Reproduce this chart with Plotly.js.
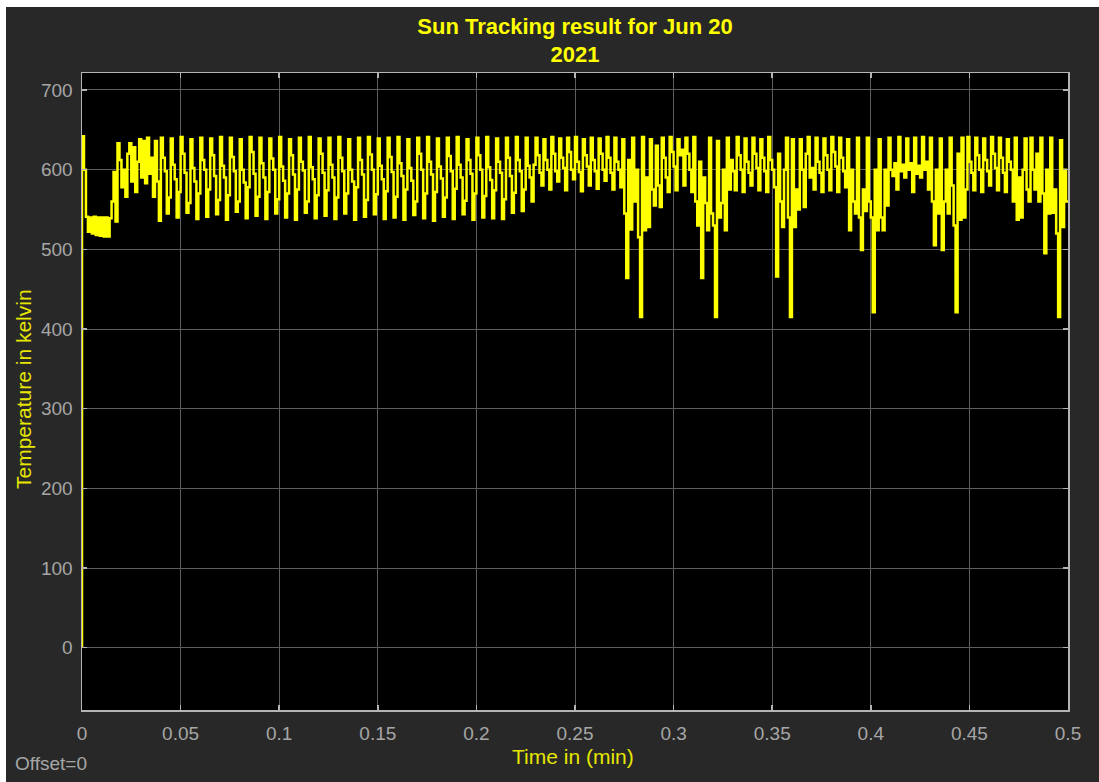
<!DOCTYPE html>
<html>
<head>
<meta charset="utf-8">
<script src="https://cdn.plot.ly/plotly-3.0.1.min.js"></script>
<style>
  html, body { margin: 0; padding: 0; background: #ffffff; width: 1099px; height: 782px; overflow: hidden; }
  #chart { position: absolute; left: 6px; top: 7px; width: 1093px; height: 775px; }
</style>
</head>
<body>
<div id="chart"></div>
<script>
// Scope sample time (minutes) and sample values
const SAMPLE_TIME = 0.001;
const START_TIME = 0;

const temperatureK = [
  0, 642, 600, 541, 522, 540, 520, 541, 518, 540,
  517, 540, 516, 540, 516, 539, 560, 597, 535, 633,
  612, 578, 600, 566, 620, 633, 585, 628, 572, 610,
  638, 590, 636, 583, 640, 595, 615, 566, 636, 585,
  536, 640, 615, 598, 545, 565, 639, 606, 588, 540,
  572, 641, 620, 596, 546, 558, 638, 602, 585, 538,
  570, 640, 612, 600, 541, 575, 639, 618, 592, 544,
  562, 641, 605, 590, 537, 568, 640, 616, 598, 547,
  560, 638, 600, 584, 539, 578, 641, 622, 595, 542,
  566, 640, 608, 590, 538, 572, 639, 614, 600, 545,
  563, 641, 604, 586, 540, 570, 638, 618, 594, 537,
  575, 640, 610, 599, 546, 560, 641, 603, 588, 539,
  568, 639, 620, 596, 542, 574, 640, 606, 590, 538,
  565, 641, 615, 598, 545, 570, 638, 600, 585, 537,
  578, 640, 612, 594, 541, 562, 641, 619, 600, 544,
  569, 639, 605, 588, 538, 573, 640, 616, 597, 540,
  566, 641, 608, 592, 537, 575, 638, 602, 586, 543,
  560, 640, 620, 600, 539, 570, 641, 610, 594, 536,
  572, 639, 604, 589, 541, 565, 640, 617, 598, 538,
  576, 641, 606, 590, 544, 561, 638, 612, 595, 537,
  570, 640, 618, 600, 540, 567, 641, 603, 587, 539,
  574, 639, 610, 596, 538, 563, 640, 615, 592, 546,
  571, 641, 612, 598, 548, 575, 640, 605, 590, 560,
  606, 640, 618, 596, 580, 638, 612, 600, 575, 641,
  620, 598, 585, 639, 615, 602, 574, 640, 622, 600,
  588, 641, 610, 597, 573, 638, 618, 604, 580, 640,
  612, 598, 576, 639, 620, 600, 586, 641, 615, 596,
  575, 640, 610, 600, 578, 638, 545, 464, 612, 525,
  640, 560, 600, 515, 415, 641, 524, 590, 528, 638,
  575, 555, 630, 580, 553, 640, 615, 590, 572, 641,
  622, 604, 574, 638, 618, 625, 580, 640, 620, 600,
  572, 641, 560, 530, 610, 464, 590, 558, 524, 640,
  545, 530, 415, 636, 540, 558, 600, 524, 640, 575,
  612, 598, 574, 641, 618, 600, 572, 639, 610, 596,
  580, 640, 620, 602, 574, 638, 615, 598, 572, 641,
  612, 600, 578, 466, 620, 560, 528, 600, 640, 540,
  415, 638, 528, 575, 550, 638, 600, 553, 620, 641,
  590, 602, 575, 640, 610, 596, 572, 639, 618, 600,
  574, 641, 622, 604, 572, 640, 615, 598, 578, 638,
  524, 600, 560, 545, 640, 540, 499, 575, 548, 640,
  560, 540, 421, 600, 524, 638, 540, 524, 600, 555,
  640, 600, 592, 608, 575, 641, 598, 606, 590, 639,
  600, 608, 572, 640, 595, 605, 590, 641, 600, 610,
  575, 640, 560, 505, 600, 545, 639, 499, 560, 600,
  545, 640, 580, 530, 421, 620, 537, 640, 540, 575,
  641, 610, 596, 574, 640, 618, 600, 572, 639, 612,
  598, 580, 641, 620, 602, 574, 640, 615, 596, 572,
  638, 610, 600, 560, 640, 537, 590, 540, 600, 639,
  575, 560, 640, 600, 575, 620, 560, 640, 570, 495,
  600, 545, 640, 546, 575, 520, 415, 637, 528, 600,
  560
];

const xTickValues = [0, 0.05, 0.1, 0.15, 0.2, 0.25, 0.3, 0.35, 0.4, 0.45, 0.5];
const xTickLabels = ['0', '0.05', '0.1', '0.15', '0.2', '0.25', '0.3', '0.35', '0.4', '0.45', '0.5'];
const yTickValues = [0, 100, 200, 300, 400, 500, 600, 700];
const yTickLabels = ['0', '100', '200', '300', '400', '500', '600', '700'];

const titleText = 'Sun Tracking result for Jun 20<br>2021';
const xLabel = 'Time in (min)';
const yLabel = 'Temperature in kelvin';
const offsetText = 'Offset=0';

const FONT = '"Liberation Sans", Arial, Helvetica, sans-serif';

const trace = {
  type: 'scatter',
  mode: 'lines',
  x0: START_TIME,
  dx: SAMPLE_TIME,
  y: temperatureK,
  line: { color: '#ffff00', width: 2.5, shape: 'vh' },
  hoverinfo: 'x+y'
};

const axisCommon = {
  showline: true,
  linecolor: '#b4b4b4',
  linewidth: 1.5,
  mirror: 'allticks',
  ticks: 'inside',
  ticklen: 5,
  tickwidth: 1.5,
  tickcolor: '#b4b4b4',
  showgrid: true,
  gridcolor: '#5e5e5e',
  gridwidth: 1,
  zeroline: false,
  tickfont: { family: FONT, size: 19, color: '#a6a6a6' }
};

const layout = {
  width: 1093,
  height: 775,
  paper_bgcolor: '#282828',
  plot_bgcolor: '#000000',
  margin: { l: 76, r: 31, t: 66, b: 72, pad: 0 },
  showlegend: false,
  title: {
    text: titleText,
    font: { family: FONT, size: 22, color: '#ffff00', weight: 'bold' },
    x: 0.5 + (76 - 31) / 2 / 1093,
    xanchor: 'center',
    xref: 'container',
    y: 1 - 26.5 / 775,
    yref: 'container',
    yanchor: 'middle'
  },
  xaxis: Object.assign({}, axisCommon, {
    range: [0, 0.5],
    tickmode: 'array',
    tickvals: xTickValues,
    ticktext: xTickLabels,
    ticklabelstandoff: 6,
    title: { text: '' }
  }),
  yaxis: Object.assign({}, axisCommon, {
    range: [-78.2, 721.3],
    tickmode: 'array',
    tickvals: yTickValues,
    ticktext: yTickLabels,
    ticklabelstandoff: 4,
    title: { text: '' }
  }),
  annotations: [
    {
      text: xLabel, xref: 'paper', yref: 'paper',
      x: 0.4975, y: (703 - 749.7) / 637,
      xanchor: 'center', yanchor: 'middle', showarrow: false,
      font: { family: FONT, size: 21, color: '#e6e600' }
    },
    {
      text: yLabel, xref: 'paper', yref: 'paper',
      x: (17 - 76) / 986, y: (703 - 389 + 7) / 637,
      xanchor: 'center', yanchor: 'middle', textangle: -90, showarrow: false,
      font: { family: FONT, size: 21, color: '#e6e600' }
    },
    {
      text: offsetText, xref: 'paper', yref: 'paper',
      x: (6.5 - 76) / 986, y: (703 - 756) / 637,
      xanchor: 'left', yanchor: 'middle', showarrow: false,
      font: { family: FONT, size: 19, color: '#a6a6a6' }
    }
  ]
};

Plotly.newPlot('chart', [trace], layout, { displayModeBar: false, staticPlot: true });
</script>
</body>
</html>
